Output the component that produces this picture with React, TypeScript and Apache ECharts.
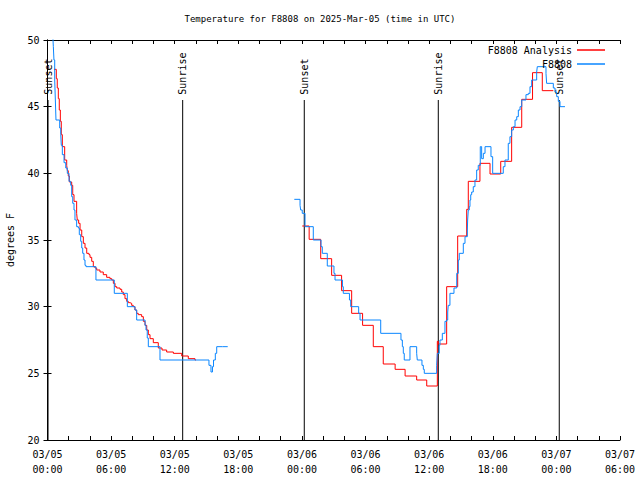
import React, { useEffect, useRef } from "react";
import * as echarts from "echarts";

// hours since 03/05 00:00 UTC
const redHours = [
  0.61, 0.83, 0.92, 1.02, 1.11, 1.21, 1.3, 1.4, 1.62, 1.81, 1.87, 1.96, 2.06, 2.28, 2.38, 2.5, 2.75, 2.81, 2.94, 3.07,
  3.23, 3.38, 3.54, 3.7, 3.91, 4.01, 4.17, 4.32, 4.48, 4.64, 4.95, 5.26, 5.58, 5.89, 6.06, 6.21, 6.37, 6.53, 6.84, 7.0,
  7.15, 7.31, 7.47, 7.62, 7.78, 7.94, 8.09, 8.25, 8.41, 8.56, 8.88, 9.04, 9.2, 9.36, 9.51, 9.67, 9.98, 10.45, 10.8, 11.24,
  11.87, 12.66, 13.28, 13.91, 14.0,
  24.03, 24.68, 25.77, 26.8, 27.74, 28.69, 29.72, 30.73, 31.67, 32.79, 33.73, 34.82, 35.77, 36.77, 36.86, 37.65, 38.69,
  39.54, 39.69, 40.79, 41.74, 42.75, 43.78, 44.73, 45.75, 46.67, 47.71,
];
const redTemps = [
  47.8, 47.1, 46.4, 45.6, 44.75, 43.9, 42.9, 42.0, 41.0, 40.6, 40.2, 39.8, 39.35, 39.1, 38.4, 37.9, 37.0, 36.5, 36.25, 35.75,
  35.25, 34.75, 34.4, 34.0, 33.9, 33.7, 33.4, 33.0, 32.9, 32.75, 32.6, 32.4, 32.2, 32.1, 32.0, 31.75, 31.5, 31.4, 31.3, 31.1,
  30.9, 30.6, 30.4, 30.3, 30.25, 30.1, 30.0, 29.75, 29.5, 29.4, 29.25, 28.9, 28.6, 28.25, 27.9, 27.6, 27.3, 26.9, 26.75, 26.6,
  26.5, 26.3, 26.1, 26.0, null,
  36.05, 35.05, 33.6, 32.35, 31.2, 29.5, 28.6, 27.0, 25.7, 25.3, 24.8, 24.5, 24.05, 27.4, 27.2, 31.5, 35.3,
  37.3, 39.4, 40.75, 39.95, 40.9, 43.45, 45.55, 47.55, 46.2, 46.2,
];

const blueHours = [
  0.49, 0.55, 0.61, 0.68, 0.74, 0.8, 1.15, 1.25, 1.3, 1.4, 1.56, 1.72, 1.87, 2.03, 2.19, 2.28, 2.38, 2.5, 2.59, 2.75,
  2.91, 3.0, 3.13, 3.23, 3.32, 3.44, 3.54, 3.63, 4.57, 6.3, 7.53, 8.25, 8.41, 9.2, 9.29, 9.41, 9.51, 10.61, 15.23, 15.42,
  15.56, 15.66, 15.83, 15.96, 16.52, 17.0,
  23.28, 23.82, 23.88, 24.03, 24.29, 25.07, 25.8, 25.92, 26.39, 27.02, 27.12, 27.82, 27.9, 28.48, 28.6, 29.35, 29.48,
  31.43, 33.34, 33.47, 33.56, 33.65, 34.19, 34.82, 34.88, 35.32, 35.45, 35.54, 36.71, 36.77, 36.95, 37.02, 37.24, 37.49,
  37.65, 37.75, 37.8, 37.96, 38.34, 38.6, 38.75, 38.84, 39.22, 39.38, 39.6, 39.63, 39.69, 39.78, 39.85, 39.92, 40.01,
  40.16, 40.32, 40.48, 40.63, 40.82, 40.95, 41.11, 41.27, 41.83, 41.99, 42.99, 43.15, 43.46, 43.62, 43.78, 43.94, 44.1,
  44.26, 44.41, 44.57, 44.73, 45.13, 45.35, 45.51, 45.67, 46.14, 46.2, 47.02, 47.08, 47.71, 47.87, 48.03, 48.18, 48.34,
  48.81,
];
const blueTemps = [
  50.5, 49.5, 48.5, 47.0, 45.5, 44.0, 43.4, 42.9, 42.1, 41.4, 40.8, 40.4, 40.0, 39.4, 39.1, 38.25, 37.75, 37.25, 36.5, 36.0,
  35.9, 35.4, 34.9, 34.4, 34.0, 33.5, 33.1, 33.0, 32.0, 31.0, 30.0, 29.75, 29.0, 28.6, 28.25, 27.65, 27.0, 26.0, 25.6, 25.1,
  25.5, 26.0, 26.5, 27.0, 27.0, null,
  38.05, 37.6, 37.25, 37.0, 36.0, 35.0, 34.5, 34.0, 33.05, 32.5, 32.0, 31.5, 31.0, 30.5, 30.0, 29.5, 29.0,
  28.0, 27.5, 27.0, 26.5, 26.0, 27.0, 26.5, 26.0, 25.6, 25.3, 25.0, 25.6, 26.5, 27.1, 27.5, 28.0, 28.9,
  29.0, 29.6, 30.1, 31.0, 31.4, 32.5, 33.5, 34.0, 34.75, 35.25, 35.75, 36.5, 37.25, 37.5, 38.0, 38.4, 38.6,
  39.0, 39.5, 40.25, 40.6, 42.0, 41.1, 41.5, 42.0, 41.25, 40.0, 40.5, 41.0, 42.25, 42.75, 43.25, 43.5, 44.0,
  44.25, 44.75, 45.0, 45.5, 45.9, 46.0, 46.5, 47.0, 47.6, 48.0, 47.5, 46.75, 46.4, 46.1, 45.75, 45.4, 45.0,
  45.0,
];

const sunHours = [0.05, 12.75, 24.22, 36.86, 48.27];
const sunLabels = ["Sunset", "Sunrise", "Sunset", "Sunrise", "Sunset"];

const xTickLabels = [
  "03/05\n00:00", "03/05\n06:00", "03/05\n12:00", "03/05\n18:00", "03/06\n00:00",
  "03/06\n06:00", "03/06\n12:00", "03/06\n18:00", "03/07\n00:00", "03/07\n06:00",
];

const FONT = "DejaVu Sans Mono";

function zip(h: number[], v: (number | null)[]) {
  return h.map((x, i) => [x, v[i] === null ? "-" : v[i]]);
}

export default function App() {
  const ref = useRef<HTMLDivElement>(null);
  useEffect(() => {
    document.body.style.margin = "0";
    const chart = echarts.init(ref.current!, null, { renderer: "svg" });
    const txt = { color: "#000", fontFamily: FONT, fontSize: 10 };
    const axisCommon = {
      axisLine: { show: true, lineStyle: { color: "#000", width: 1 } },
      axisTick: { show: true, inside: true, length: 4, lineStyle: { color: "#000" } },
      splitLine: { show: false },
    };
    chart.setOption({
      animation: false,
      backgroundColor: "#fff",
      title: {
        text: "Temperature for F8808 on 2025-Mar-05 (time in UTC)",
        left: "center",
        top: 9,
        textStyle: { ...txt, fontSize: 9, fontWeight: "normal" },
      },
      legend: [
        {
          data: ["F8808 Analysis"],
          right: 30,
          top: 40,
          align: "right",
          icon: "rect",
          itemWidth: 28,
          itemHeight: 1.5,
          textStyle: txt,
        },
        {
          data: ["F8808"],
          right: 30,
          top: 54,
          align: "right",
          icon: "rect",
          itemWidth: 28,
          itemHeight: 1.5,
          textStyle: txt,
        },
      ],
      grid: { left: 47.5, right: 20, top: 40, bottom: 40, containLabel: false, outerBoundsMode: "none" },
      xAxis: [
        {
          type: "value",
          min: 0,
          max: 54,
          interval: 2,
          position: "bottom",
          ...axisCommon,
          axisLabel: {
            ...txt,
            interval: 0,
            margin: 7,
            lineHeight: 15,
            formatter: (v: number) => (v % 6 === 0 ? xTickLabels[v / 6] : ""),
          },
        },
        {
          type: "value",
          min: 0,
          max: 54,
          interval: 2,
          position: "top",
          ...axisCommon,
          axisLabel: { show: false },
        },
      ],
      yAxis: [
        {
          type: "value",
          min: 20,
          max: 50,
          interval: 5,
          position: "left",
          ...axisCommon,
          name: "degrees F",
          nameLocation: "middle",
          nameGap: 32,
          nameRotate: 90,
          nameTextStyle: txt,
          axisLabel: { ...txt, margin: 8 },
        },
        {
          type: "value",
          min: 20,
          max: 50,
          interval: 5,
          position: "right",
          ...axisCommon,
          axisLabel: { show: false },
        },
      ],
      series: [
        {
          type: "custom",
          name: "sun",
          data: sunHours.map((h) => [h, 20]),
          encode: { x: 0, y: 1 },
          renderItem: (params: any, api: any) => {
            const t = api.value(0);
            const top = api.coord([t, 45.5]);
            const bot = api.coord([t, 20]);
            const lab = api.coord([t, 45.9]);
            return {
              type: "group",
              children: [
                {
                  type: "line",
                  shape: { x1: top[0], y1: top[1], x2: bot[0], y2: bot[1] },
                  style: { stroke: "#000", lineWidth: 1 },
                },
                {
                  type: "text",
                  x: lab[0],
                  y: lab[1],
                  rotation: Math.PI / 2,
                  style: {
                    text: sunLabels[params.dataIndex],
                    fill: "#000",
                    font: `10px "${FONT}"`,
                    align: "left",
                    verticalAlign: "middle",
                  },
                },
              ],
            };
          },
        },
        {
          type: "line",
          name: "F8808 Analysis",
          step: "end",
          showSymbol: false,
          symbol: "none",
          connectNulls: false,
          color: "#ff0000",
          lineStyle: { color: "#ff0000", width: 1 },
          data: zip(redHours, redTemps),
        },
        {
          type: "line",
          name: "F8808",
          step: "end",
          showSymbol: false,
          symbol: "none",
          connectNulls: false,
          color: "#0a86ff",
          lineStyle: { color: "#0a86ff", width: 1 },
          data: zip(blueHours, blueTemps),
        },
      ],
    });
    return () => chart.dispose();
  }, []);
  return <div ref={ref} style={{ position: "fixed", left: 0, top: 0, width: 640, height: 480 }} />;
}
